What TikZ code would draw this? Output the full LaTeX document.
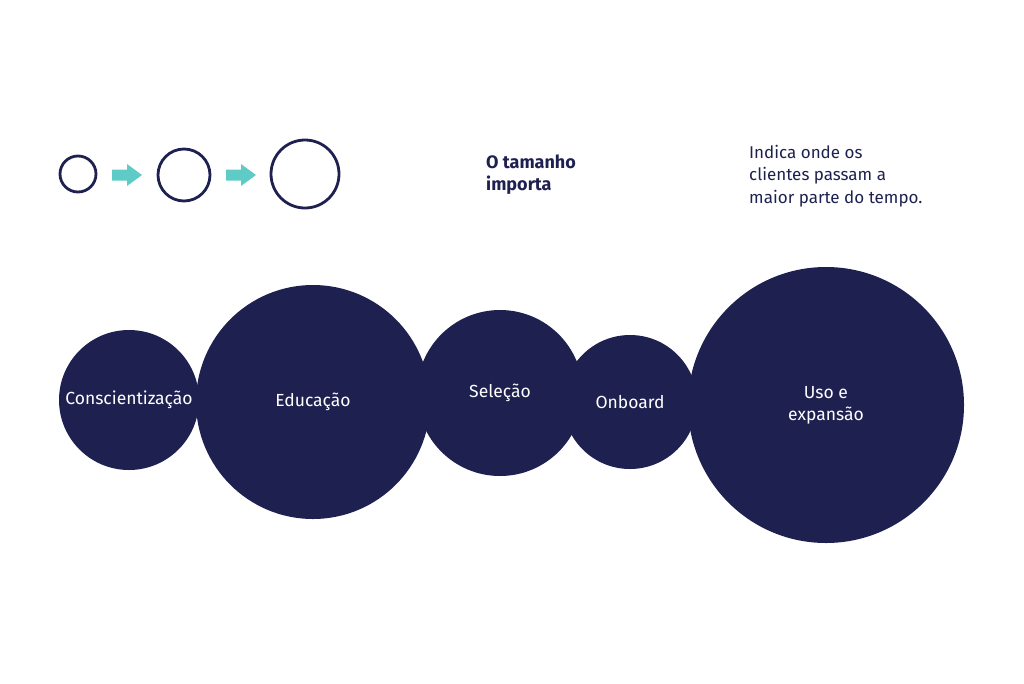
\documentclass[tikz,border=0pt]{standalone}
\usepackage{fontspec}
\setmainfont{Fira Sans}
\definecolor{navy}{HTML}{1E2150}
\definecolor{teal}{HTML}{5FCBC7}
\begin{document}
\begin{tikzpicture}[x=1pt,y=-1pt,
  bub/.style={circle,fill=navy,draw=none,inner sep=0pt,minimum size=#1,text=white,align=center,font=\fontsize{17.5}{22}\selectfont},
  ring/.style={circle,draw=navy,line width=2.8pt,inner sep=0pt,minimum size=#1},
  tarrow/.style={fill=teal,draw=none}]
\useasboundingbox (0,0) rectangle (1024,683);
% legend rings
\node[ring=36pt] (r1) at (78,174) {};
\node[ring=52pt] (r2) at (184,175) {};
\node[ring=68pt] (r3) at (305,174) {};
\coordinate (a1) at (112,175);
\coordinate (a2) at (226,175);
\foreach \c in {a1,a2}{
  \fill[teal] ([shift={(0,-5.5)}]\c) -- ++(15,0) -- ++(0,-5.5) -- ++(15,11) -- ++(-15,11) -- ++(0,-5.5) -- ++(-15,0) -- cycle;
}
\node[anchor=north west,text=navy,align=left,font=\fontsize{18}{22}\selectfont\bfseries,inner sep=0pt] (t1) at (486,155) {O tamanho\\importa};
\node[anchor=north west,text=navy,align=left,font=\fontsize{17}{22.5}\selectfont,inner sep=0pt] (t2) at (749,145) {Indica onde os\\clientes passam a\\maior parte do tempo.};
% bubbles
\node[bub=140pt] (c1) at (129,400) {Conscientização};
\node[bub=234pt] (c2) at (313,402) {Educação};
\node[bub=166pt] (c3) at (500,393) {Seleção};
\node[bub=134pt] (c4) at (630,402) {Onboard};
\node[bub=276pt] (c5) at (826,405) {Uso e\\expansão};
\end{tikzpicture}
\end{document}
